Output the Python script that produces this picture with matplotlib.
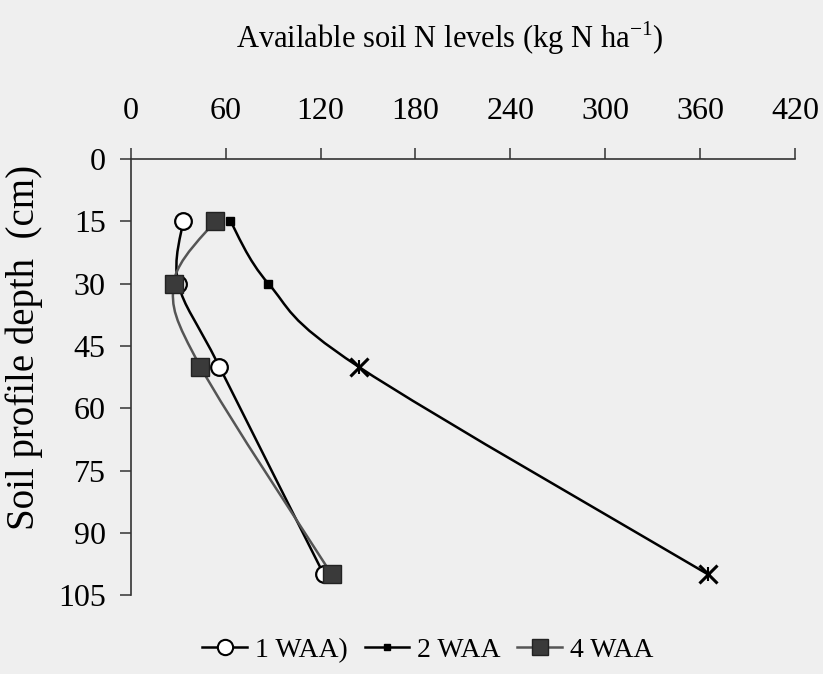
import matplotlib.pyplot as plt
import numpy as np
from matplotlib.path import Path
from matplotlib.patches import PathPatch
from matplotlib.lines import Line2D

plt.rcParams['font.family'] = ['Liberation Serif', 'DejaVu Serif']

depth = [15, 30, 50, 100]
waa1 = [33, 30, 56, 122]
waa2 = [63, 87, 144, 365]
waa4 = [53, 27, 44, 127]

x_ticks = [0, 60, 120, 180, 240, 300, 360, 420]
y_ticks = [0, 15, 30, 45, 60, 75, 90, 105]


def smooth_path(ax, xs, ys, color, lw):
    # Catmull-Rom style smoothing drawn as cubic Bezier segments in display space
    pts = ax.transData.transform(np.column_stack([xs, ys]))
    n = len(pts)
    verts = [pts[0]]
    codes = [Path.MOVETO]
    for i in range(n - 1):
        p0 = pts[i - 1] if i > 0 else pts[i]
        p1 = pts[i]
        p2 = pts[i + 1]
        p3 = pts[i + 2] if i + 2 < n else pts[i + 1]
        c1 = p1 + (p2 - p0) / 6.0
        c2 = p2 - (p3 - p1) / 6.0
        verts += [c1, c2, p2]
        codes += [Path.CURVE4] * 3
    path = Path(verts, codes)
    patch = PathPatch(path, facecolor='none', edgecolor=color, lw=lw,
                      transform=None, zorder=2)
    ax.add_artist(patch)


fig = plt.figure(figsize=(8.23, 6.74), dpi=100, facecolor='#efefef')
ax = fig.add_axes([0.159, 0.117, 0.807, 0.647])
ax.set_facecolor('none')
ax.set_xlim(0, 420)
ax.set_ylim(105, 0)

for s in ['right', 'bottom']:
    ax.spines[s].set_visible(False)
for s in ['top', 'left']:
    ax.spines[s].set_color('#333333')
    ax.spines[s].set_linewidth(1.2)

ax.xaxis.tick_top()
ax.set_xticks(x_ticks)
ax.set_yticks(y_ticks)
ax.tick_params(axis='both', direction='out', length=8, width=1.1,
               color='#333333', labelsize=23)
ax.tick_params(axis='x', pad=16)
ax.tick_params(axis='y', pad=10)

smooth_path(ax, waa1, depth, 'black', 1.8)
smooth_path(ax, waa2, depth, 'black', 1.8)
smooth_path(ax, waa4, depth, '#555555', 1.8)

ax.plot(waa1, depth, ls='none', marker='o', ms=12, mfc='white',
        mec='black', mew=1.6, zorder=3)
ax.plot(waa2[:2], depth[:2], ls='none', marker='s', ms=6, mfc='black',
        mec='black', zorder=3)
ax.plot(waa2[2:], depth[2:], ls='none', marker='x', ms=13, mec='black',
        mew=2.2, zorder=3)
ax.plot(waa2[2:], depth[2:], ls='none', marker='|', ms=10, mec='black',
        mew=1.5, zorder=3)
ax.plot(waa4, depth, ls='none', marker='s', ms=13, mfc='#3a3a3a',
        mec='#222222', mew=1.0, zorder=4)

fig.text(0.547, 0.944, 'Available soil N levels (kg N ha$^{\\mathregular{-1}}$)',
         ha='center', va='center', fontsize=22)
fig.text(0.030, 0.484, 'Soil profile depth  (cm)', rotation=90,
         ha='center', va='center', fontsize=28)

handles = [
    Line2D([], [], color='black', lw=1.8, marker='o', ms=11, mfc='white',
           mec='black', mew=1.5),
    Line2D([], [], color='black', lw=1.8, marker='s', ms=5, mfc='black'),
    Line2D([], [], color='#555555', lw=1.8, marker='s', ms=12,
           mfc='#3a3a3a', mec='#222222'),
]
fig.legend(handles, ['1 WAA)', '2 WAA', '4 WAA'], loc='center',
           bbox_to_anchor=(0.52, 0.035), ncol=3, frameon=False, fontsize=20,
           handlelength=1.6, handletextpad=0.3, columnspacing=0.6)

fig.savefig('out.png', dpi=100, facecolor=fig.get_facecolor())
